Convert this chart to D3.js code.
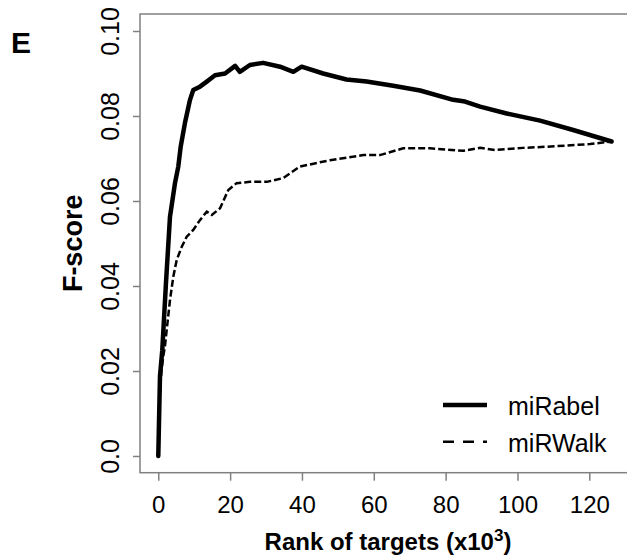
<!DOCTYPE html>
<html>
<head>
<meta charset="utf-8">
<script src="https://cdn.jsdelivr.net/npm/d3@7"></script>
<style>
  body { margin: 0; background: #fff; }
  svg { display: block; font-family: "Liberation Sans", Arial, Helvetica, sans-serif; }
</style>
</head>
<body>
<div id="chart"></div>
<script>
"use strict";

// rank of targets (x10^3) and F-score
const rabelRank = [0, 0.47, 1.11, 2.14, 3.26, 4.65, 5.57, 6.24, 7.43, 8.83, 9.74, 11.6, 13.5, 15.8, 18.6,
  21.4, 22.7, 25.5, 29.2, 33.9, 37.6, 39.9, 45.9, 52.4, 58.0, 65.4, 72.9, 82.1, 85.4, 89.6, 97.0, 106.3, 115.5, 126.2];
const rabelF = [0, 0.0187, 0.0249, 0.0407, 0.0563, 0.0642, 0.0681, 0.0728, 0.0784, 0.0838, 0.0861, 0.0869, 0.0881, 0.0896, 0.0900,
  0.0918, 0.0904, 0.0920, 0.0925, 0.0916, 0.0904, 0.0916, 0.0900, 0.0886, 0.0881, 0.0871, 0.0860, 0.0838, 0.0834, 0.0822, 0.0806, 0.0789, 0.0767, 0.0740];

const walkRank = [0, 0.33, 0.89, 1.45, 1.87, 2.14, 3.26, 4.18, 5.12, 6.51, 7.91, 9.74, 11.6, 13.5, 14.9, 17.2, 19.5, 21.8,
  25.5, 30.2, 34.8, 39.4, 45.0, 47.8, 57.1, 61.7, 68.2, 75.6, 84.9, 89.6, 93.7, 101.6, 110.9, 120.2, 126.2];
const walkF = [0, 0.0132, 0.0202, 0.0238, 0.0259, 0.0281, 0.0367, 0.0422, 0.0461, 0.0492, 0.0516, 0.0532, 0.0555, 0.0575, 0.0567, 0.0583, 0.0626, 0.0642,
  0.0645, 0.0645, 0.0654, 0.0681, 0.0691, 0.0696, 0.0708, 0.0708, 0.0724, 0.0724, 0.0718, 0.0725, 0.0720, 0.0725, 0.0729, 0.0734, 0.0740];

const xTicks = [0, 20, 40, 60, 80, 100, 120];
const yTicks = [0, 0.02, 0.04, 0.06, 0.08, 0.10];
const yTickLabels = ["0.0", "0.02", "0.04", "0.06", "0.08", "0.10"];
const seriesNames = ["miRabel", "miRWalk"];

const W = 627, H = 558;
const box = { left: 140, top: 14, right: 636, bottom: 472.7 };

const svg = d3.select("#chart").append("svg")
  .attr("width", W)
  .attr("height", H);

const x = d3.scaleLinear().domain([-5.09, 133.0]).range([box.left, box.right]);
const y = d3.scaleLinear().domain([-0.00393, 0.104]).range([box.bottom, box.top]);

// axes (ticks only, the box draws the lines)
const xAxis = svg.append("g")
  .attr("transform", "translate(0," + box.bottom + ")")
  .call(d3.axisBottom(x).tickValues(xTicks).tickSize(8).tickPadding(0).tickFormat(d3.format("d")));
xAxis.select(".domain").remove();
xAxis.selectAll(".tick line").attr("stroke", "#808080").attr("stroke-width", 1.5);
xAxis.selectAll(".tick text")
  .attr("y", 40)
  .attr("dy", null)
  .style("font-size", "24px")
  .attr("fill", "#000");

const yAxis = svg.append("g")
  .attr("transform", "translate(" + box.left + ",0)")
  .call(d3.axisLeft(y).tickValues(yTicks).tickSize(7).tickFormat((d, i) => yTickLabels[i]));
yAxis.select(".domain").remove();
yAxis.selectAll(".tick line").attr("stroke", "#808080").attr("stroke-width", 1.5);
yAxis.selectAll(".tick text")
  .attr("x", null).attr("dy", null)
  .attr("text-anchor", "middle")
  .attr("transform", "translate(-21.5,0) rotate(-90)")
  .style("font-size", "25px")
  .attr("fill", "#000");

// plot box
svg.append("rect")
  .attr("x", box.left)
  .attr("y", box.top)
  .attr("width", box.right - box.left)
  .attr("height", box.bottom - box.top)
  .attr("fill", "none")
  .attr("stroke", "#808080")
  .attr("stroke-width", 1.5);

const line = d3.line()
  .x(d => x(d[0]))
  .y(d => y(d[1]));

svg.append("path")
  .datum(d3.zip(walkRank, walkF))
  .attr("d", line)
  .attr("fill", "none")
  .attr("stroke", "#000")
  .attr("stroke-width", 2.5)
  .attr("stroke-dasharray", "7,3");

svg.append("path")
  .datum(d3.zip(rabelRank, rabelF))
  .attr("d", line)
  .attr("fill", "none")
  .attr("stroke", "#000")
  .attr("stroke-width", 4.5)
  .attr("stroke-linejoin", "round")
  .attr("stroke-linecap", "round");

// legend
const legend = svg.append("g");
_legendRow(0, seriesNames[0], 4.5, null);
_legendRow(1, seriesNames[1], 2.5, "11,9");
function _legendRow(i, name, sw, dash) {
  const ly = 405 + i * 36.7;
  legend.append("line")
    .attr("x1", 443).attr("x2", 487)
    .attr("y1", ly).attr("y2", ly)
    .attr("stroke", "#000")
    .attr("stroke-width", sw)
    .attr("stroke-dasharray", dash);
  legend.append("text")
    .attr("x", 508).attr("y", ly + 10)
    .style("font-size", "25px")
    .text(name);
}

// axis titles
const xt = svg.append("text")
  .attr("x", 388).attr("y", 550)
  .attr("text-anchor", "middle")
  .style("font-size", "24px")
  .style("font-weight", "bold")
  .text("Rank of targets (x10");
xt.append("tspan").attr("dy", -9).style("font-size", "17px").text("3");
xt.append("tspan").attr("dy", 9).text(")");

svg.append("text")
  .attr("transform", "translate(82," + ((box.top + box.bottom) / 2) + ") rotate(-90)")
  .attr("text-anchor", "middle")
  .style("font-size", "27px")
  .style("font-weight", "bold")
  .text("F-score");

// panel letter
svg.append("text")
  .attr("x", 11).attr("y", 53)
  .style("font-size", "30px")
  .style("font-weight", "bold")
  .text("E");
</script>
</body>
</html>
